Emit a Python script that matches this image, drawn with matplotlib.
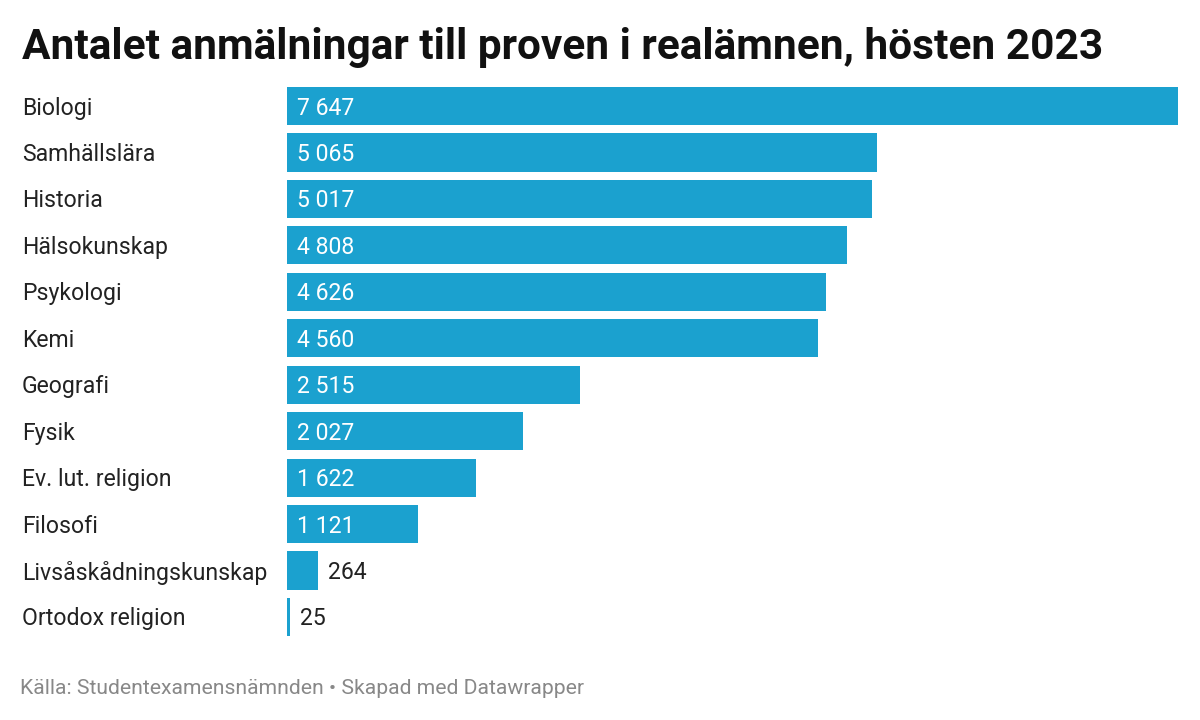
import matplotlib
matplotlib.use("Agg")
import matplotlib.pyplot as plt

categories = ["Biologi", "Samhällslära", "Historia", "Hälsokunskap", "Psykologi", "Kemi",
              "Geografi", "Fysik", "Ev. lut. religion", "Filosofi",
              "Livsåskådningskunskap", "Ortodox religion"]
values = [7647, 5065, 5017, 4808, 4626, 4560, 2515, 2027, 1622, 1121, 264, 25]
title = "Antalet anmälningar till proven i realämnen, hösten 2023"
footer = "Källa: Studentexamensnämnden • Skapad med Datawrapper"

plt.rcParams['font.family'] = ['Roboto', 'DejaVu Sans']
W, H = 1200, 720
fig = plt.figure(figsize=(12, 7.2), dpi=100)
left, right = 287 / W, 1178 / W
top_px, bot_px = 82.8, 640.2
ax = fig.add_axes([left, 1 - bot_px / H, right - left, (bot_px - top_px) / H])

color = "#1ba1cf"
y = list(range(len(categories)))
ax.barh(y, values, height=0.82, color=color)
ax.set_xlim(0, max(values))
ax.set_ylim(len(categories) - 0.5, -0.5)
ax.axis("off")

def fmt(v):
    return f"{v:,}".replace(",", " ")

fs = 16.6
dy = -2
for i, (c, v) in enumerate(zip(categories, values)):
    ax.annotate(c, xy=(0, i), xycoords="data", xytext=(22 - 287, dy), textcoords="offset pixels",
                fontsize=fs, color="#222222", va="center", ha="left", annotation_clip=False)
    if v > 800:
        ax.annotate(fmt(v), xy=(0, i), xytext=(10, dy), textcoords="offset pixels",
                    fontsize=fs, color="white", va="center", ha="left")
    else:
        ax.annotate(fmt(v), xy=(v, i), xytext=(10, dy), textcoords="offset pixels",
                    fontsize=fs, color="#222222", va="center", ha="left")

fig.text(22 / W, 1 - 47 / H, title, fontsize=30.5, fontweight="bold", color="#111111",
         va="center", ha="left")
fig.text(20 / W, 1 - 689 / H, footer, fontsize=15.2, color="#888888", va="center", ha="left")

fig.savefig("out.png", dpi=100)
